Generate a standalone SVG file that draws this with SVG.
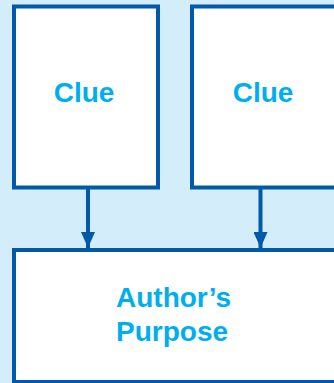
<svg xmlns="http://www.w3.org/2000/svg" width="334" height="383" viewBox="0 0 334 383">
<defs>
<style>
.box{fill:#fff;stroke:#0059a9;stroke-width:4}
.lbl{fill:#00aeef;font-family:"Liberation Sans",Arial,sans-serif;font-weight:bold;font-size:28px}
.conn{stroke:#0059a9;stroke-width:4;fill:none}
</style>
<marker id="arr" markerUnits="userSpaceOnUse" markerWidth="16" markerHeight="14" refX="16" refY="7" orient="auto" viewBox="0 0 16 14">
<path d="M0,0 L16,7 L0,14 Z" fill="#0059a9"/>
</marker>
</defs>
<rect width="334" height="383" fill="#d3edfa"/>
<g id="clue1">
<rect class="box" x="14" y="6.5" width="144" height="181"/>
<text class="lbl" x="84" y="102" text-anchor="middle">Clue</text>
</g>
<g id="clue2">
<rect class="box" x="192" y="6.5" width="150" height="181"/>
<text class="lbl" x="263" y="102" text-anchor="middle">Clue</text>
</g>
<g id="purpose">
<rect class="box" x="14" y="250" width="330" height="132"/>
<text class="lbl" x="116" y="307">Author’s</text>
<text class="lbl" x="116" y="341">Purpose</text>
</g>
<g id="connectors">
<line class="conn" x1="88" y1="189" x2="88" y2="248" marker-end="url(#arr)"/>
<line class="conn" x1="260.5" y1="189" x2="260.5" y2="248" marker-end="url(#arr)"/>
</g>
</svg>
